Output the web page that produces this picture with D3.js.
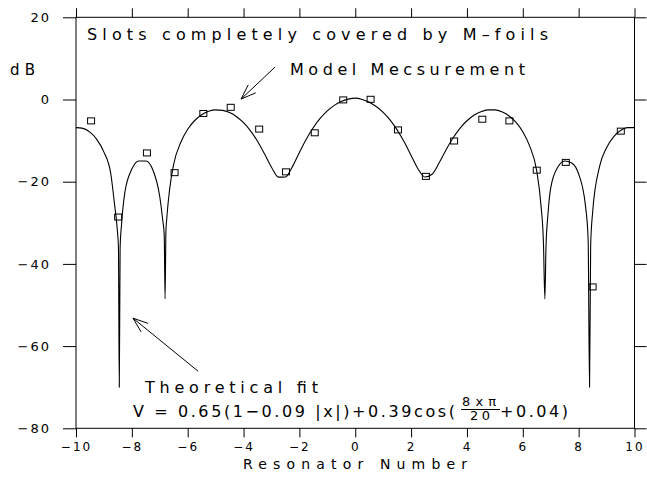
<!DOCTYPE html>
<html>
<head>
<meta charset="utf-8">
<script src="https://cdn.jsdelivr.net/npm/d3@7"></script>
<style>
body { margin: 0; background: #fff; }
text { font-family: "DejaVu Sans", sans-serif; fill: #000; }
</style>
</head>
<body>
<svg id="chart" width="647" height="479"></svg>
<script>
// theoretical fit (dB)
const fitX = [-10, -9.75, -9.5, -9.25, -9, -8.75, -8.62, -8.53, -8.48, -8.45, -8.42, -8.37, -8.25, -8, -7.75, -7.5, -7.25, -7,
  -6.9, -6.84, -6.81, -6.78, -6.75, -6.65, -6.5, -6.25, -6, -5.75, -5.5, -5.25, -5, -4.75, -4.5, -4.25, -4, -3.75, -3.5,
  -3.25, -3, -2.75, -2.5, -2.25, -2, -1.75, -1.5, -1.25, -1, -0.75, -0.5, -0.25, 0, 0.25, 0.5, 0.75, 1, 1.25, 1.5, 1.75,
  2, 2.25, 2.5, 2.75, 3, 3.25, 3.5, 3.75, 4, 4.25, 4.5, 4.75, 5, 5.25, 5.5, 5.75, 6, 6.25, 6.5, 6.65, 6.74, 6.79, 6.83,
  6.9, 7, 7.25, 7.5, 7.75, 8, 8.25, 8.34, 8.39, 8.43, 8.5, 8.75, 9, 9.25, 9.5, 9.75, 10]
const fitDb = [-6.85, -7.02, -7.95, -9.75, -12.8, -18.24, -25.5, -31, -36, -70, -36, -30.5, -22.6, -16.93, -14.95, -14.97, -17.08, -23.66,
  -29, -33, -48.5, -32, -29, -22, -15.69, -10.46, -7.24, -5.11, -3.71, -2.87, -2.53, -2.64, -3.19, -4.18, -5.65, -7.64, -10.17,
  -13.22, -16.47, -18.89, -18.85, -16.33, -12.88, -9.6, -6.81, -4.55, -2.77, -1.43, -0.49, 0.09, 0.34, 0.01, -0.66, -1.7, -3.13, -5.02, -7.39, -10.29,
  -13.61, -16.9, -18.85, -18.18, -15.47, -12.27, -9.38, -7.01, -5.17, -3.83, -2.96, -2.53, -2.53, -2.99, -3.95, -5.51, -7.86, -11.41, -17.43, -25.7, -35, -48.5, -36,
  -28, -21.52, -16.5, -14.97, -15.43, -18.12, -26.2, -34, -70, -35.5, -27.5, -16.27, -11.74, -9.1, -7.56, -6.84, -6.85]

// model measurement
const measX = [-9.46, -8.49, -7.46, -6.47, -5.44, -4.46, -3.44, -2.48, -1.45, -0.43, 0.55, 1.53, 2.53, 3.54, 4.55, 5.52, 6.5, 7.54, 8.5, 9.51]
const measDb = [-5.2, -28.6, -13.0, -17.8, -3.4, -1.9, -7.2, -17.6, -8.1, -0.1, 0.05, -7.4, -18.7, -10.1, -4.8, -5.2, -17.2, -15.3, -45.6, -7.7]

const xTicks = [-10, -8, -6, -4, -2, 0, 2, 4, 6, 8, 10]
const yTicks = [20, 0, -20, -40, -60, -80]

const svg = d3.select('#chart')
const x = d3.scaleLinear().domain([-10, 10]).range([76, 634.5])
const y = d3.scaleLinear().domain([-80, 20]).range([428.3, 17.3])

const fmt = d => d < 0 ? '\u2212' + Math.abs(d) : String(d)
const tidy = (g, size) => {
  g.select('.domain').remove()
  g.selectAll('line').attr('stroke', '#000')
  g.selectAll('text').style('font-size', size + 'px').style('letter-spacing', '2px')
}

// axes (ticks all point outward)
svg.append('g')
  .attr('transform', `translate(0,${y(-80)})`)
  .call(d3.axisBottom(x).tickValues(xTicks).tickSize(9).tickPadding(5).tickFormat(fmt))
  .call(g => tidy(g, 12))
svg.append('g')
  .attr('transform', `translate(0,${y(20)})`)
  .call(d3.axisTop(x).tickValues(xTicks).tickSize(9).tickFormat(''))
  .call(g => tidy(g, 12))
svg.append('g')
  .attr('transform', `translate(${x(-10)},0)`)
  .call(d3.axisLeft(y).tickValues(yTicks).tickSize(13).tickPadding(12).tickFormat(fmt))
  .call(g => tidy(g, 13))
svg.append('g')
  .attr('transform', `translate(${x(10)},0)`)
  .call(d3.axisRight(y).tickValues(yTicks).tickSize(12).tickFormat(''))
  .call(g => tidy(g, 13))

svg.append('rect')
  .attr('x', x(-10)).attr('y', y(20))
  .attr('width', x(10) - x(-10)).attr('height', y(-80) - y(20))
  .attr('fill', 'none').attr('stroke', '#000').attr('stroke-width', 1)

// fit curve
const line = d3.line()
  .x(d => x(d[0]))
  .y(d => y(d[1]))
  .curve(d3.curveMonotoneX)
svg.append('path')
  .datum(d3.zip(fitX, fitDb))
  .attr('d', line)
  .attr('fill', 'none')
  .attr('stroke', '#000')
  .attr('stroke-width', 1.1)

// measured squares
svg.append('g')
  .selectAll('rect')
  .data(d3.zip(measX, measDb))
  .join('rect')
  .attr('x', d => x(d[0]) - 3.5)
  .attr('y', d => y(d[1]) - 3)
  .attr('width', 7)
  .attr('height', 6)
  .attr('fill', 'none')
  .attr('stroke', '#000')
  .attr('stroke-width', 1)

// arrows, in data units
const arrows = [
  { from: [-2.87, 7.9], to: [-4.09, 0.1] },
  { from: [-5.63, -66.1], to: [-7.96, -53.2] }
]
arrows.forEach(a => {
  const x1 = x(a.from[0]), y1 = y(a.from[1]), x2 = x(a.to[0]), y2 = y(a.to[1])
  const ang = Math.atan2(y1 - y2, x1 - x2)
  const len = 16, spread = 0.35
  svg.append('line').attr('x1', x1).attr('y1', y1).attr('x2', x2).attr('y2', y2)
    .attr('stroke', '#000').attr('stroke-width', 1)
  svg.append('path')
    .attr('d', `M${x2 + len * Math.cos(ang - spread)},${y2 + len * Math.sin(ang - spread)}L${x2},${y2}L${x2 + len * Math.cos(ang + spread)},${y2 + len * Math.sin(ang + spread)}`)
    .attr('fill', 'none').attr('stroke', '#000').attr('stroke-width', 1)
})

// labels
const label = (txt, px, py, size, width, anchor) => {
  const t = svg.append('text').attr('x', px).attr('y', py)
    .style('font-size', size + 'px').text(txt)
  if (width) t.attr('textLength', width).attr('lengthAdjust', 'spacing')
  if (anchor) t.attr('text-anchor', anchor)
  return t
}
label('Slots completely covered by M\u2013foils', 87, 40, 16, 461)
label('dB', 10, 75, 15, 25)
label('Model Mecsurement', 290, 75, 16, 235)
label('Theoretical fit', 145, 393, 16, 173)
label('V = 0.65(1\u22120.09 |x|)+0.39cos(', 133, 417, 16, 322)
label('8x\u03c0', 462, 406, 13, 34)
svg.append('line').attr('x1', 461).attr('x2', 500).attr('y1', 409.5).attr('y2', 409.5)
  .attr('stroke', '#000').attr('stroke-width', 1)
label('20', 470, 420, 13, 20)
label('+0.04)', 500, 417, 16, 68)
label('Resonator Number', 243, 469, 14, 224)
</script>
</body>
</html>
